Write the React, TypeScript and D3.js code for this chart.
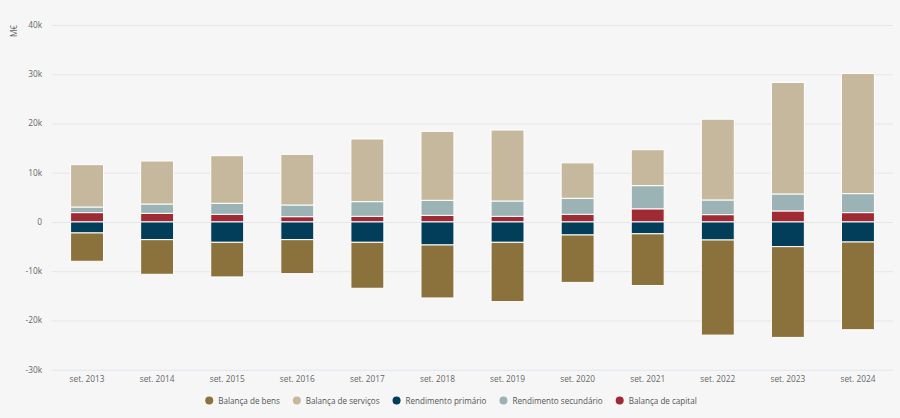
import React, { useEffect, useRef } from 'react';
import * as d3 from 'd3';

const categories = [
  'set. 2013', 'set. 2014', 'set. 2015', 'set. 2016', 'set. 2017', 'set. 2018',
  'set. 2019', 'set. 2020', 'set. 2021', 'set. 2022', 'set. 2023', 'set. 2024',
];

// M€
const bens = [-5750, -7030, -7030, -6900, -9330, -10760, -12040, -9630, -10500, -19310, -18430, -17810];
const servicos = [8600, 8730, 9660, 10280, 12720, 14000, 14410, 7190, 7290, 16400, 22630, 24390];
const primario = [-2230, -3590, -4130, -3590, -4130, -4670, -4130, -2640, -2400, -3660, -5010, -4070];
const secundario = [1140, 1890, 2240, 2370, 2980, 3050, 3110, 3250, 4710, 2980, 3450, 3860];
const capital = [1900, 1760, 1560, 1080, 1150, 1350, 1150, 1560, 2670, 1490, 2240, 1900];

const yTicks = [-30000, -20000, -10000, 0, 10000, 20000, 30000, 40000];

const series = [
  { key: 'bens', name: 'Balança de bens', color: '#8b723d', values: bens },
  { key: 'servicos', name: 'Balança de serviços', color: '#c6b89c', values: servicos },
  { key: 'primario', name: 'Rendimento primário', color: '#023e5a', values: primario },
  { key: 'secundario', name: 'Rendimento secundário', color: '#9bb3b4', values: secundario },
  { key: 'capital', name: 'Balança de capital', color: '#a02a33', values: capital },
];

const font = '"Open Sans", sans-serif';

const App: React.FC = () => {
  const svgRef = useRef<SVGSVGElement>(null);

  useEffect(() => {
    if (!svgRef.current) return;
    const width = 900;
    const height = 418;
    const margin = { top: 25, right: 7, bottom: 48.3, left: 52 };

    const svg = d3.select(svgRef.current);
    svg.selectAll('*').remove();

    svg.append('rect').attr('width', width).attr('height', height).attr('fill', '#f6f6f6');

    const x = d3.scaleBand<string>()
      .domain(categories)
      .range([margin.left, width - margin.right])
      .paddingInner(0.53)
      .paddingOuter(0.265);

    const y = d3.scaleLinear()
      .domain([-30000, 40000])
      .range([height - margin.bottom, margin.top]);

    // grid
    svg.append('g')
      .selectAll('line')
      .data(yTicks.filter(t => t !== -30000))
      .enter()
      .append('line')
      .attr('x1', margin.left)
      .attr('x2', width - margin.right)
      .attr('y1', d => y(d) + 0.5)
      .attr('y2', d => y(d) + 0.5)
      .attr('stroke', '#e6e6e6')
      .attr('stroke-width', 1);

    // x axis line
    svg.append('line')
      .attr('x1', margin.left)
      .attr('x2', width - margin.right)
      .attr('y1', y(-30000) + 0.5)
      .attr('y2', y(-30000) + 0.5)
      .attr('stroke', '#e1e5ef');

    // stacked bars (last series closest to zero)
    const rows = categories.map((c, i) => {
      const r: Record<string, any> = { cat: c };
      series.forEach(s => { r[s.key] = s.values[i]; });
      return r;
    });
    const stackOrder = series.slice().reverse();
    const stacked = d3.stack<any>()
      .keys(stackOrder.map(s => s.key))
      .offset(d3.stackOffsetDiverging)(rows);

    stacked.forEach((layer, li) => {
      svg.append('g')
        .selectAll('rect')
        .data(layer)
        .enter()
        .append('rect')
        .attr('x', d => x(d.data.cat) as number)
        .attr('width', x.bandwidth())
        .attr('y', d => y(Math.max(d[0], d[1])))
        .attr('height', d => Math.abs(y(d[0]) - y(d[1])))
        .attr('fill', stackOrder[li].color)
        .attr('stroke', '#ffffff')
        .attr('stroke-width', 1);
    });

    // y labels
    svg.append('g')
      .selectAll('text')
      .data(yTicks)
      .enter()
      .append('text')
      .attr('x', 42)
      .attr('y', d => y(d) + 3)
      .attr('text-anchor', 'end')
      .attr('font-family', font)
      .attr('font-size', 8.3)
      .attr('fill', '#666666')
      .text(d => (d === 0 ? '0' : `${d / 1000}k`));

    // x labels
    svg.append('g')
      .selectAll('text')
      .data(categories)
      .enter()
      .append('text')
      .attr('x', d => (x(d) as number) + x.bandwidth() / 2)
      .attr('y', y(-30000) + 12.5)
      .attr('text-anchor', 'middle')
      .attr('font-family', font)
      .attr('font-size', 8.3)
      .attr('fill', '#666666')
      .text(d => d);

    // y title
    svg.append('text')
      .attr('transform', `translate(16.5,31) rotate(-90)`)
      .attr('text-anchor', 'middle')
      .attr('font-family', font)
      .attr('font-size', 8.3)
      .attr('fill', '#666666')
      .text('M€');

    // legend
    const legend = svg.append('g');
    let cx = 0;
    series.forEach(s => {
      const item = legend.append('g').attr('transform', `translate(${cx},0)`);
      item.append('circle').attr('cx', 0).attr('cy', 0).attr('r', 4).attr('fill', s.color);
      const t = item.append('text')
        .attr('x', 9)
        .attr('y', 3)
        .attr('font-family', font)
        .attr('font-size', 8.1)
        .attr('fill', '#555555')
        .text(s.name);
      const w = (t.node() as SVGTextElement).getComputedTextLength();
      cx += 9 + w + 17;
    });
    const total = cx - 17 + 4;
    legend.attr('transform', `translate(${451 - total / 2 + 4},400.5)`);
  }, []);

  return (
    <svg
      ref={svgRef}
      width={900}
      height={418}
      style={{ position: 'absolute', left: 0, top: 0 }}
    />
  );
};

export default App;
